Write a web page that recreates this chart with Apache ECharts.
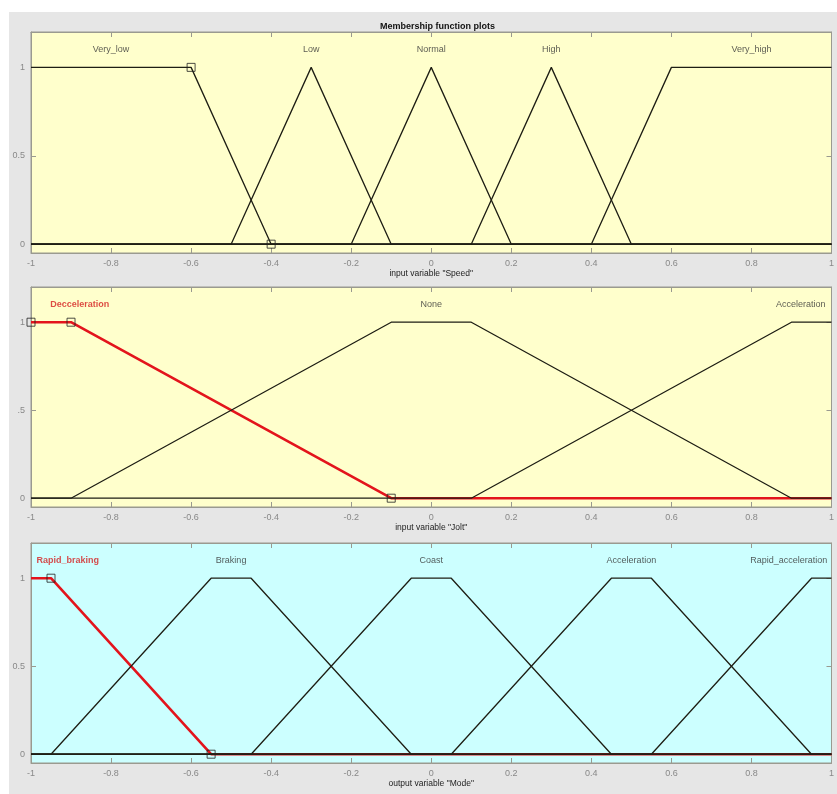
<!DOCTYPE html>
<html>
<head>
<meta charset="utf-8">
<script src="https://cdn.jsdelivr.net/npm/echarts@6/dist/echarts.min.js"></script>
<style>
html,body{margin:0;padding:0;background:#fff;overflow:hidden;}
#c{width:100vw;height:100vh;}
</style>
</head>
<body>
<div id="c"></div>
<script>
// ---------- data ----------
const titleText = 'Membership function plots';
const yTicks = [0, 0.5, 1];
const yTickLabels1 = ['0', '0.5', '1'];
const yTickLabels2 = ['0', '.5', '1'];
const yTickLabels3 = ['0', '0.5', '1'];

// Speed (input)
const speedName = 'input variable "Speed"';
const speedMfNames = ['Very_low', 'Low', 'Normal', 'High', 'Very_high'];
const speedMfX = [
  [-1, -0.6, -0.4, 1],
  [-1, -0.5, -0.3, -0.1, 1],
  [-1, -0.2, 0, 0.2, 1],
  [-1, 0.1, 0.3, 0.5, 1],
  [-1, 0.4, 0.6, 1]
];
const speedMfY = [
  [1, 1, 0, 0],
  [0, 0, 1, 0, 0],
  [0, 0, 1, 0, 0],
  [0, 0, 1, 0, 0],
  [0, 0, 1, 1]
];
const speedLabelX = [-0.8, -0.3, 0, 0.3, 0.8];
const speedMarkers = [[-0.6, 1], [-0.4, 0]];
const speedSelected = -1;

// Jolt (input)
const joltName = 'input variable "Jolt"';
const joltMfNames = ['Decceleration', 'None', 'Acceleration'];
const joltMfX = [
  [-1, -0.9, -0.1, 1],
  [-1, -0.9, -0.1, 0.1, 0.9, 1],
  [-1, 0.1, 0.9, 1]
];
const joltMfY = [
  [1, 1, 0, 0],
  [0, 0, 1, 1, 0, 0],
  [0, 0, 1, 1]
];
const joltLabelX = [-0.878, 0, 0.923];
const joltMarkers = [[-1, 1], [-0.9, 1], [-0.1, 0]];
const joltSelected = 0;

// Mode (output)
const modeName = 'output variable "Mode"';
const modeMfNames = ['Rapid_braking', 'Braking', 'Coast', 'Acceleration', 'Rapid_acceleration'];
const modeMfX = [
  [-1, -0.95, -0.55, 1],
  [-1, -0.95, -0.55, -0.45, -0.05, 1],
  [-1, -0.45, -0.05, 0.05, 0.45, 1],
  [-1, 0.05, 0.45, 0.55, 0.95, 1],
  [-1, 0.55, 0.95, 1]
];
const modeMfY = [
  [1, 1, 0, 0],
  [0, 0, 1, 1, 0, 0],
  [0, 0, 1, 1, 0, 0],
  [0, 0, 1, 1, 0, 0],
  [0, 0, 1, 1]
];
const modeLabelX = [-0.908, -0.5, 0, 0.5, 0.893];
const modeMarkers = [[-0.95, 1], [-0.55, 0]];
const modeSelected = 0;

const labelLevel = 1.1;

// ---------- build ----------
const FONT = '"Liberation Sans", Arial, sans-serif';
const panels = [
  {name: speedName, names: speedMfNames, xs: speedMfX, ys: speedMfY, lx: speedLabelX, markers: speedMarkers, sel: speedSelected, bg: '#ffffcc', top: 32, h: 221, gap: 13, ylab: yTickLabels1},
  {name: joltName, names: joltMfNames, xs: joltMfX, ys: joltMfY, lx: joltLabelX, markers: joltMarkers, sel: joltSelected, bg: '#ffffcc', top: 287, h: 220, gap: 15, ylab: yTickLabels2},
  {name: modeName, names: modeMfNames, xs: modeMfX, ys: modeMfY, lx: modeLabelX, markers: modeMarkers, sel: modeSelected, bg: '#ccffff', top: 543, h: 220, gap: 16, ylab: yTickLabels3}
];

const grid = [], xAxis = [], yAxis = [], series = [];
const axisColor = '#9a9a90';
panels.forEach((p, i) => {
  grid.push({left: 31, top: p.top, right: 2, height: p.h, show: true, backgroundColor: p.bg, borderColor: axisColor, borderWidth: 1, containLabel: false});
  xAxis.push({
    type: 'value', gridIndex: i, position: 'bottom', min: -1, max: 1, interval: 0.2,
    name: p.name, nameLocation: 'middle', nameGap: p.gap,
    nameTextStyle: {fontSize: 8.5, color: '#222', fontFamily: FONT},
    axisLine: {show: true, onZero: false, lineStyle: {color: axisColor}},
    axisTick: {show: true, inside: true, length: 5, lineStyle: {color: axisColor}},
    axisLabel: {show: true, margin: 6, fontSize: 9, color: '#888', fontFamily: FONT,
      formatter: v => String(Math.round(v * 10) / 10)},
    splitLine: {show: false}
  });
  xAxis.push({
    type: 'value', gridIndex: i, position: 'top', min: -1, max: 1, interval: 0.2,
    axisLine: {show: true, onZero: false, lineStyle: {color: axisColor}},
    axisTick: {show: true, inside: true, length: 5, lineStyle: {color: axisColor}},
    axisLabel: {show: false}, splitLine: {show: false}
  });
  yAxis.push({
    type: 'value', gridIndex: i, position: 'left', min: -0.05, max: 1.2,
    axisLine: {show: true, onZero: false, lineStyle: {color: axisColor}},
    axisTick: {show: true, inside: true, length: 5, customValues: yTicks, lineStyle: {color: axisColor}},
    axisLabel: {show: true, margin: 6, fontSize: 9, color: '#888', fontFamily: FONT, customValues: yTicks,
      formatter: v => p.ylab[yTicks.indexOf(Math.round(v * 10) / 10)]},
    splitLine: {show: false}
  });
  yAxis.push({
    type: 'value', gridIndex: i, position: 'right', min: -0.05, max: 1.2,
    axisLine: {show: true, onZero: false, lineStyle: {color: axisColor}},
    axisTick: {show: true, inside: true, length: 5, customValues: yTicks, lineStyle: {color: axisColor}},
    axisLabel: {show: false}, splitLine: {show: false}
  });
  const xi = i * 2, yi = i * 2;
  if (p.sel >= 0) {
    const k = p.sel;
    series.push({
      type: 'line', xAxisIndex: xi, yAxisIndex: yi, z: 2,
      data: p.xs[k].map((x, j) => [x, p.ys[k][j]]),
      symbol: 'none', lineStyle: {color: '#e3141c', width: 2.6}, silent: true
    });
  }
  p.names.forEach((n, k) => {
    if (k === p.sel) return;
    series.push({
      type: 'line', xAxisIndex: xi, yAxisIndex: yi, z: 3,
      data: p.xs[k].map((x, j) => [x, p.ys[k][j]]),
      symbol: 'none', lineStyle: {color: '#1e1e14', width: 1.3}, silent: true
    });
  });
  series.push({
    type: 'scatter', xAxisIndex: xi, yAxisIndex: yi, z: 5,
    data: p.markers, symbol: 'rect', symbolSize: 8,
    itemStyle: {color: 'rgba(0,0,0,0)', borderColor: '#222', borderWidth: 1}, silent: true
  });
  series.push({
    type: 'scatter', xAxisIndex: xi, yAxisIndex: yi, z: 6,
    data: p.names.map((n, k) => {
      const d = {value: [p.lx[k], labelLevel, n]};
      if (k === p.sel) d.label = {color: '#d42020', fontWeight: 'bold'};
      return d;
    }),
    symbolSize: 1, itemStyle: {color: 'rgba(0,0,0,0)'}, silent: true,
    label: {show: true, position: 'inside', fontFamily: FONT, color: '#333', fontSize: 9,
      formatter: q => q.value[2]}
  });
});

const chart = echarts.init(document.getElementById('c'), null, {renderer: 'canvas'});
chart.setOption({
  backgroundColor: '#ffffff',
  animation: false,
  title: {text: titleText, left: 375, top: 17, textStyle: {fontSize: 9, fontWeight: 'bold', color: '#111', fontFamily: FONT}},
  graphic: [{type: 'rect', z: -10, left: 9, top: 12, shape: {width: 2000, height: 2000}, style: {fill: '#e6e6e6'}, silent: true}],
  grid, xAxis, yAxis, series
});
</script>
</body>
</html>
